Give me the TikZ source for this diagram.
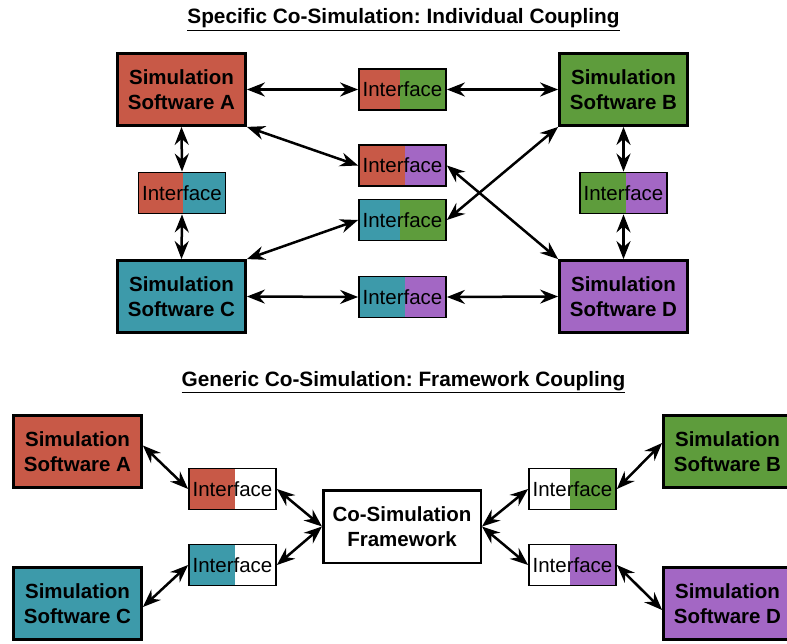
\documentclass[tikz,border=0pt]{standalone}
\usepackage{fontspec}
\setmainfont{Liberation Sans}
\usetikzlibrary{arrows.meta,calc}
\definecolor{cred}{HTML}{C85947}
\definecolor{cgreen}{HTML}{5E9C3C}
\definecolor{cteal}{HTML}{3D9AAA}
\definecolor{cpurple}{HTML}{A367C4}
\frenchspacing
\begin{document}
\begin{tikzpicture}[x=1pt,y=-1pt,
  sim/.style={draw, line width=2.8pt, minimum width=128pt, minimum height=72pt, inner sep=0pt, align=center, font=\bfseries\fontsize{20.5}{25}\selectfont},
  fw/.style={draw, line width=2.5pt, fill=white, minimum width=157.5pt, minimum height=72.5pt, inner sep=0pt, align=center, font=\bfseries\fontsize{20.5}{25}\selectfont},
  iface/.style n args={3}{draw, line width=1.8pt, minimum width=87pt, minimum height=41pt, inner sep=0pt, font=\fontsize{20.5}{25}\selectfont,
    path picture={\fill[#1] (path picture bounding box.south west) rectangle ([xshift=#3]path picture bounding box.north);
                  \fill[#2] ([xshift=#3]path picture bounding box.south) rectangle (path picture bounding box.north east);}},
  conn/.style={{Stealth[length=18pt,width=14pt,inset=6pt]}-{Stealth[length=18pt,width=14pt,inset=6pt]}, line width=2.5pt},
  ttl/.style={font=\bfseries\fontsize{20.8}{25}\selectfont, anchor=base}]
\useasboundingbox (0,0) rectangle (787,644);
% titles
\node[ttl] (t1) at (403.5,24) {\underline{Specific Co-Simulation: Individual Coupling}};
\node[ttl] (t2) at (403.5,386) {\underline{Generic Co-Simulation: Framework Coupling}};
% top section
\node[sim, fill=cred] (A) at (181.5,89.5) {Simulation\\Software A};
\node[sim, fill=cgreen] (B) at (623.5,89.5) {Simulation\\Software B};
\node[sim, fill=cteal] (C) at (181.5,296.5) {Simulation\\Software C};
\node[sim, fill=cpurple] (D) at (623.5,296.5) {Simulation\\Software D};
\node[iface={cred}{cgreen}{-2.5pt}] (IAB) at (402.5,89.5) {Interface};
\node[iface={cred}{cpurple}{2.5pt}] (IAD) at (402.5,165.5) {Interface};
\node[iface={cteal}{cgreen}{-2.5pt}] (ICB) at (402.5,220) {Interface};
\node[iface={cteal}{cpurple}{2.5pt}] (ICD) at (402.5,297) {Interface};
\node[iface={cred}{cteal}{1pt}] (IAC) at (182,193) {Interface};
\node[iface={cgreen}{cpurple}{2.5pt}] (IBD) at (623.5,193) {Interface};
\draw[conn] (A.east) -- (IAB.west);
\draw[conn] (IAB.east) -- (B.west);
\draw[conn] (C.east) -- (ICD.west);
\draw[conn] (ICD.east) -- (D.west);
\draw[conn] (A.south) -- (IAC.north);
\draw[conn] (IAC.south) -- (C.north);
\draw[conn] (B.south) -- (IBD.north);
\draw[conn] (IBD.south) -- (D.north);
\draw[conn] (A.south east) -- (IAD.west);
\draw[conn] (IAD.east) -- (D.north west);
\draw[conn] (C.north east) -- (ICB.west);
\draw[conn] (ICB.east) -- (B.south west);
% bottom section
\node[sim, fill=cred] (A2) at (77.5,451.5) {Simulation\\Software A};
\node[sim, fill=cteal] (C2) at (77.5,603.5) {Simulation\\Software C};
\node[sim, fill=cgreen] (B2) at (727.5,451.5) {Simulation\\Software B};
\node[sim, fill=cpurple] (D2) at (727.5,603.5) {Simulation\\Software D};
\node[fw] (F) at (402,526.5) {Co-Simulation\\Framework};
\node[iface={cred}{white}{2.5pt}] (IA2) at (232.5,489) {Interface};
\node[iface={cteal}{white}{2.5pt}] (IC2) at (232.5,565) {Interface};
\node[iface={white}{cgreen}{-2.5pt}] (IB2) at (572.5,489) {Interface};
\node[iface={white}{cpurple}{-2.5pt}] (ID2) at (572.5,565) {Interface};
\draw[conn] ([yshift=6pt]A2.east) -- (IA2.west);
\draw[conn] ([yshift=-3.5pt]C2.east) -- (IC2.west);
\draw[conn] (IA2.east) -- (F.west);
\draw[conn] (IC2.east) -- (F.west);
\draw[conn] (F.east) -- (IB2.west);
\draw[conn] (F.east) -- (ID2.west);
\draw[conn] (IB2.east) -- ([yshift=8.5pt]B2.west);
\draw[conn] (ID2.east) -- ([yshift=-6.5pt]D2.west);
\end{tikzpicture}
\end{document}
